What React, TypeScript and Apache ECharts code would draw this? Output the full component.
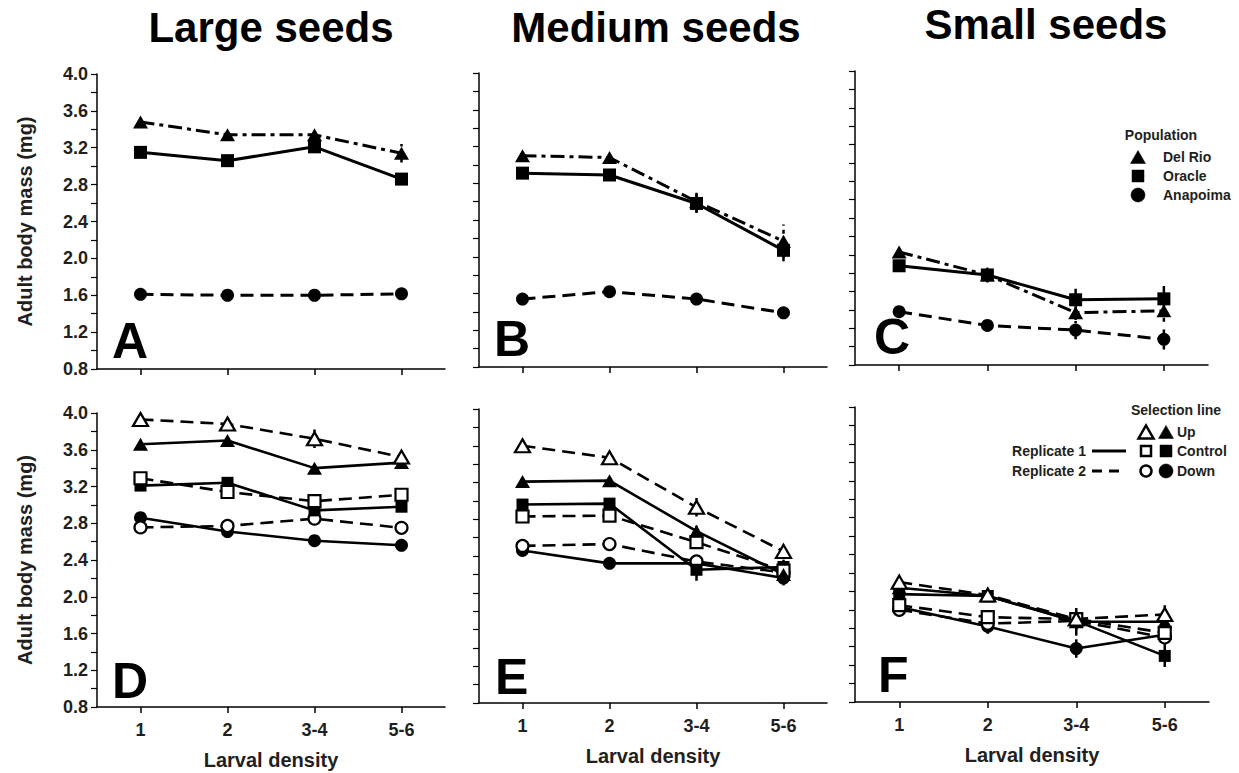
import React, { useEffect, useRef } from "react";
import * as echarts from "echarts";

// ---------- data ----------
const densities = ["1", "2", "3-4", "5-6"];
const yMin = 0.8;
const yMax = 4.0;
const yStep = 0.4;

// Panel A (large seeds, populations)
const largeDelRio = [3.48, 3.34, 3.34, 3.14];
const largeOracle = [3.15, 3.06, 3.21, 2.86];
const largeAnapoima = [1.61, 1.6, 1.6, 1.615];
const largeDelRioSE = [0.03, 0.03, 0.04, 0.1];
const largeOracleSE = [0.03, 0.03, 0.04, 0.04];
const largeAnapoimaSE = [0.02, 0.02, 0.02, 0.02];

// Panel B (medium seeds, populations)
const mediumDelRio = [3.1, 3.08, 2.6, 2.17];
const mediumOracle = [2.91, 2.89, 2.58, 2.07];
const mediumAnapoima = [1.54, 1.62, 1.54, 1.39];
const mediumDelRioSE = [0.03, 0.03, 0.12, 0.18];
const mediumOracleSE = [0.03, 0.03, 0.1, 0.12];
const mediumAnapoimaSE = [0.03, 0.03, 0.03, 0.03];

// Panel C (small seeds, populations)
const smallDelRio = [2.03, 1.78, 1.37, 1.39];
const smallOracle = [1.88, 1.78, 1.51, 1.52];
const smallAnapoima = [1.38, 1.23, 1.18, 1.08];
const smallDelRioSE = [0.04, 0.08, 0.08, 0.12];
const smallOracleSE = [0.04, 0.08, 0.12, 0.14];
const smallAnapoimaSE = [0.03, 0.03, 0.1, 0.11];

// Panel D (large seeds, selection lines)
const largeUp1 = [3.66, 3.7, 3.4, 3.46];
const largeUp2 = [3.93, 3.88, 3.72, 3.52];
const largeControl1 = [3.21, 3.24, 2.94, 2.98];
const largeControl2 = [3.29, 3.14, 3.04, 3.11];
const largeDown1 = [2.86, 2.71, 2.61, 2.56];
const largeDown2 = [2.755, 2.77, 2.85, 2.75];
const largeUp1SE = [0.03, 0.03, 0.03, 0.03];
const largeUp2SE = [0.03, 0.03, 0.1, 0.03];
const largeControl1SE = [0.03, 0.03, 0.03, 0.03];
const largeControl2SE = [0.03, 0.03, 0.03, 0.03];
const largeDown1SE = [0.03, 0.03, 0.03, 0.03];
const largeDown2SE = [0.03, 0.03, 0.03, 0.03];

// Panel E (medium seeds, selection lines)
const mediumUp1 = [3.21, 3.22, 2.67, 2.2];
const mediumUp2 = [3.6, 3.47, 2.93, 2.45];
const mediumControl1 = [2.96, 2.97, 2.25, 2.28];
const mediumControl2 = [2.83, 2.84, 2.55, 2.24];
const mediumDown1 = [2.46, 2.32, 2.32, 2.16];
const mediumDown2 = [2.51, 2.53, 2.34, 2.22];
const mediumUp1SE = [0.03, 0.03, 0.06, 0.06];
const mediumUp2SE = [0.03, 0.03, 0.1, 0.08];
const mediumControl1SE = [0.03, 0.03, 0.12, 0.08];
const mediumControl2SE = [0.03, 0.03, 0.06, 0.06];
const mediumDown1SE = [0.04, 0.03, 0.06, 0.08];
const mediumDown2SE = [0.04, 0.03, 0.06, 0.08];

// Panel F (small seeds, selection lines)
const smallUp1 = [2.04, 1.95, 1.67, 1.67];
const smallUp2 = [2.1, 1.96, 1.7, 1.75];
const smallControl1 = [1.97, 1.95, 1.68, 1.3];
const smallControl2 = [1.85, 1.72, 1.7, 1.55];
const smallDown1 = [1.83, 1.62, 1.38, 1.53];
const smallDown2 = [1.8, 1.65, 1.68, 1.5];
const smallUp1SE = [0.04, 0.04, 0.15, 0.08];
const smallUp2SE = [0.04, 0.04, 0.08, 0.1];
const smallControl1SE = [0.04, 0.04, 0.1, 0.12];
const smallControl2SE = [0.04, 0.05, 0.08, 0.08];
const smallDown1SE = [0.04, 0.08, 0.1, 0.08];
const smallDown2SE = [0.04, 0.06, 0.08, 0.08];

const seedTitles = ["Large seeds", "Medium seeds", "Small seeds"];
const panelLetters = ["A", "B", "C", "D", "E", "F"];
const populationNames = ["Del Rio", "Oracle", "Anapoima"];
const selectionNames = ["Up", "Control", "Down"];
const replicateNames = ["Replicate 1", "Replicate 2"];

// ---------- styles ----------
const FONT = '"Liberation Sans", Arial, Helvetica, sans-serif';
const INK = "#000";
const TXT = "#231f20";
const SOLID: any = "solid";
const DASH = [13, 7];
const DASHDOT = [14, 5, 4, 5];

const grids = [
  { left: 97, top: 74, width: 348, height: 295 },
  { left: 479, top: 73, width: 348, height: 294 },
  { left: 855, top: 71, width: 353, height: 294 },
  { left: 97, top: 413, width: 348, height: 294 },
  { left: 479, top: 409, width: 348, height: 294 },
  { left: 855, top: 407, width: 354, height: 295 },
];

function lineSeries(
  name: string,
  data: number[],
  idx: number,
  symbol: string,
  filled: boolean,
  dash: any,
  size: any,
  width: number
) {
  return {
    type: "line",
    name,
    data,
    xAxisIndex: idx,
    yAxisIndex: idx,
    symbol,
    symbolSize: size,
    showSymbol: true,
    showAllSymbol: true,
    silent: true,
    z: 3,
    lineStyle: { color: INK, width, type: dash },
    itemStyle: {
      color: filled ? INK : "#fff",
      borderColor: INK,
      borderWidth: filled ? 0 : 2.2,
      opacity: 1,
    },
  };
}

function errSeries(values: number[], se: number[], idx: number, dash: any) {
  return {
    type: "custom",
    xAxisIndex: idx,
    yAxisIndex: idx,
    silent: true,
    z: 2,
    encode: { x: 0, y: [1, 2] },
    data: values.map((v, i) => [i, v - se[i], v + se[i]]),
    renderItem: (params: any, api: any) => {
      const x = api.value(0);
      const lo = api.coord([x, api.value(1)]);
      const hi = api.coord([x, api.value(2)]);
      return {
        type: "line",
        shape: { x1: lo[0], y1: lo[1], x2: hi[0], y2: hi[1] },
        style: {
          stroke: INK,
          lineWidth: 2.5,
          lineDash: dash === SOLID ? null : [4, 4],
        },
      };
    },
  };
}

const TRI = [15, 13];
const SQ = 12;
const CIR = 13;

function populationSeries(
  idx: number,
  delRio: number[],
  oracle: number[],
  anap: number[],
  dSE: number[],
  oSE: number[],
  aSE: number[]
) {
  return [
    errSeries(delRio, dSE, idx, DASHDOT),
    errSeries(oracle, oSE, idx, SOLID),
    errSeries(anap, aSE, idx, DASH),
    lineSeries(populationNames[2], anap, idx, "circle", true, DASH, CIR, 3),
    lineSeries(populationNames[1], oracle, idx, "rect", true, SOLID, SQ + 1, 3),
    lineSeries(populationNames[0], delRio, idx, "triangle", true, DASHDOT, TRI, 3),
  ];
}

function selectionSeries(
  idx: number,
  up1: number[],
  up2: number[],
  c1: number[],
  c2: number[],
  d1: number[],
  d2: number[],
  se: number[][]
) {
  return [
    errSeries(up1, se[0], idx, SOLID),
    errSeries(up2, se[1], idx, DASH),
    errSeries(c1, se[2], idx, SOLID),
    errSeries(c2, se[3], idx, DASH),
    errSeries(d1, se[4], idx, SOLID),
    errSeries(d2, se[5], idx, DASH),
    lineSeries("Down 1", d1, idx, "circle", true, SOLID, CIR, 2.6),
    lineSeries("Down 2", d2, idx, "circle", false, DASH, CIR - 1, 2.6),
    lineSeries("Control 1", c1, idx, "rect", true, SOLID, SQ, 2.6),
    lineSeries("Control 2", c2, idx, "rect", false, DASH, SQ, 2.6),
    lineSeries("Up 1", up1, idx, "triangle", true, SOLID, TRI, 2.6),
    lineSeries("Up 2", up2, idx, "triangle", false, DASH, TRI, 2.6),
  ];
}

function buildOption() {
  const xAxis = grids.map((_, i) => ({
    type: "category",
    gridIndex: i,
    data: densities,
    boundaryGap: true,
    axisLine: { show: true, lineStyle: { color: INK, width: 1.5 } },
    axisTick: {
      show: true,
      alignWithLabel: true,
      length: 6,
      lineStyle: { color: INK, width: 1.5 },
    },
    axisLabel: {
      show: i >= 3,
      margin: 14,
      fontFamily: FONT,
      fontWeight: "bold",
      fontSize: 18,
      color: TXT,
    },
    name: i >= 3 ? "Larval density" : "",
    nameLocation: "middle",
    nameGap: 43,
    nameTextStyle: {
      fontFamily: FONT,
      fontWeight: "bold",
      fontSize: 20,
      color: TXT,
    },
    splitLine: { show: false },
  }));

  const yAxis = grids.map((_, i) => ({
    type: "value",
    gridIndex: i,
    min: yMin,
    max: yMax,
    interval: yStep,
    axisLine: { show: true, lineStyle: { color: INK, width: 1.5 } },
    axisTick: { show: true, length: 6, lineStyle: { color: INK, width: 1.2 } },
    minorTick: {
      show: true,
      splitNumber: 2,
      length: 6,
      lineStyle: { color: INK, width: 1.2 },
    },
    splitLine: { show: false },
    minorSplitLine: { show: false },
    axisLabel: {
      show: i === 0 || i === 3,
      margin: 9,
      fontFamily: FONT,
      fontWeight: "bold",
      fontSize: 18,
      color: TXT,
      formatter: (v: number) => v.toFixed(1),
    },
    name: i === 0 || i === 3 ? "Adult body mass (mg)" : "",
    nameLocation: "middle",
    nameGap: 62,
    nameTextStyle: {
      fontFamily: FONT,
      fontWeight: "bold",
      fontSize: 20,
      color: TXT,
    },
  }));

  const series: any[] = [
    ...populationSeries(0, largeDelRio, largeOracle, largeAnapoima, largeDelRioSE, largeOracleSE, largeAnapoimaSE),
    ...populationSeries(1, mediumDelRio, mediumOracle, mediumAnapoima, mediumDelRioSE, mediumOracleSE, mediumAnapoimaSE),
    ...populationSeries(2, smallDelRio, smallOracle, smallAnapoima, smallDelRioSE, smallOracleSE, smallAnapoimaSE),
    ...selectionSeries(3, largeUp1, largeUp2, largeControl1, largeControl2, largeDown1, largeDown2, [
      largeUp1SE, largeUp2SE, largeControl1SE, largeControl2SE, largeDown1SE, largeDown2SE,
    ]),
    ...selectionSeries(4, mediumUp1, mediumUp2, mediumControl1, mediumControl2, mediumDown1, mediumDown2, [
      mediumUp1SE, mediumUp2SE, mediumControl1SE, mediumControl2SE, mediumDown1SE, mediumDown2SE,
    ]),
    ...selectionSeries(5, smallUp1, smallUp2, smallControl1, smallControl2, smallDown1, smallDown2, [
      smallUp1SE, smallUp2SE, smallControl1SE, smallControl2SE, smallDown1SE, smallDown2SE,
    ]),
  ];

  const txt = (
    text: string,
    x: number,
    y: number,
    size: number,
    align: string = "left",
    vAlign: string = "middle",
    color: string = TXT
  ) => ({
    type: "text",
    x,
    y,
    silent: true,
    style: {
      text,
      fill: color,
      font: `bold ${size}px ${FONT}`,
      align,
      verticalAlign: vAlign,
      textAlign: align,
      textVerticalAlign: vAlign,
    },
  });

  const tri = (cx: number, cy: number, w: number, h: number, filled: boolean) => ({
    type: "polygon",
    silent: true,
    shape: {
      points: [
        [cx, cy - h / 2],
        [cx + w / 2, cy + h / 2],
        [cx - w / 2, cy + h / 2],
      ],
    },
    style: {
      fill: filled ? INK : "#fff",
      stroke: INK,
      lineWidth: filled ? 0.5 : 2.5,
      lineJoin: "miter",
    },
  });
  const sq = (cx: number, cy: number, s: number, filled: boolean) => ({
    type: "rect",
    silent: true,
    shape: { x: cx - s / 2, y: cy - s / 2, width: s, height: s },
    style: { fill: filled ? INK : "#fff", stroke: INK, lineWidth: filled ? 0.5 : 2.5 },
  });
  const circ = (cx: number, cy: number, r: number, filled: boolean) => ({
    type: "circle",
    silent: true,
    shape: { cx, cy, r },
    style: { fill: filled ? INK : "#fff", stroke: INK, lineWidth: filled ? 0.5 : 2.5 },
  });

  const titlePos = [
    [271, 27],
    [656, 27],
    [1046, 24],
  ];
  const letterPos = [
    [112, 341],
    [494, 339],
    [874, 337],
    [112, 681],
    [495, 677],
    [878, 675],
  ];

  const graphic: any[] = [
    ...seedTitles.map((t, i) => txt(t, titlePos[i][0], titlePos[i][1], 42, "center", "middle", INK)),
    ...panelLetters.map((t, i) => txt(t, letterPos[i][0], letterPos[i][1], 50, "left", "middle", INK)),
    // Population legend
    txt("Population", 1161, 135, 14, "center"),
    tri(1138, 157, 15, 13, true),
    sq(1138, 176, 12, true),
    circ(1138, 195, 7, true),
    txt(populationNames[0], 1163, 157, 14),
    txt(populationNames[1], 1163, 176, 14),
    txt(populationNames[2], 1163, 195, 14),
    // Selection line legend
    txt("Selection line", 1176, 410, 14, "center"),
    tri(1146, 432, 15, 13, false),
    tri(1166, 432, 15, 13, true),
    sq(1146, 451, 10, false),
    sq(1166, 451, 12, true),
    circ(1146, 471, 5.5, false),
    circ(1166, 471, 7, true),
    txt(selectionNames[0], 1177, 432, 14),
    txt(selectionNames[1], 1177, 451, 14),
    txt(selectionNames[2], 1177, 471, 14),
    txt(replicateNames[0], 1086, 451, 14, "right"),
    txt(replicateNames[1], 1086, 471, 14, "right"),
    {
      type: "line",
      silent: true,
      shape: { x1: 1092, y1: 451, x2: 1126, y2: 451 },
      style: { stroke: INK, lineWidth: 3 },
    },
    {
      type: "line",
      silent: true,
      shape: { x1: 1092, y1: 471, x2: 1126, y2: 471 },
      style: { stroke: INK, lineWidth: 3, lineDash: [10, 7] },
    },
  ];

  return {
    animation: false,
    backgroundColor: "#fff",
    textStyle: { fontFamily: FONT },
    grid: grids.map((g) => ({ ...g, containLabel: false })),
    xAxis,
    yAxis,
    series,
    graphic,
  };
}

export default function App() {
  const ref = useRef<HTMLDivElement>(null);
  useEffect(() => {
    if (!ref.current) return;
    const chart = echarts.init(ref.current, undefined, { renderer: "svg" });
    chart.setOption(buildOption() as any);
    return () => chart.dispose();
  }, []);
  return (
    <div
      ref={ref}
      style={{
        position: "fixed",
        left: 0,
        top: 0,
        width: 1239,
        height: 773,
        background: "#fff",
      }}
    />
  );
}
